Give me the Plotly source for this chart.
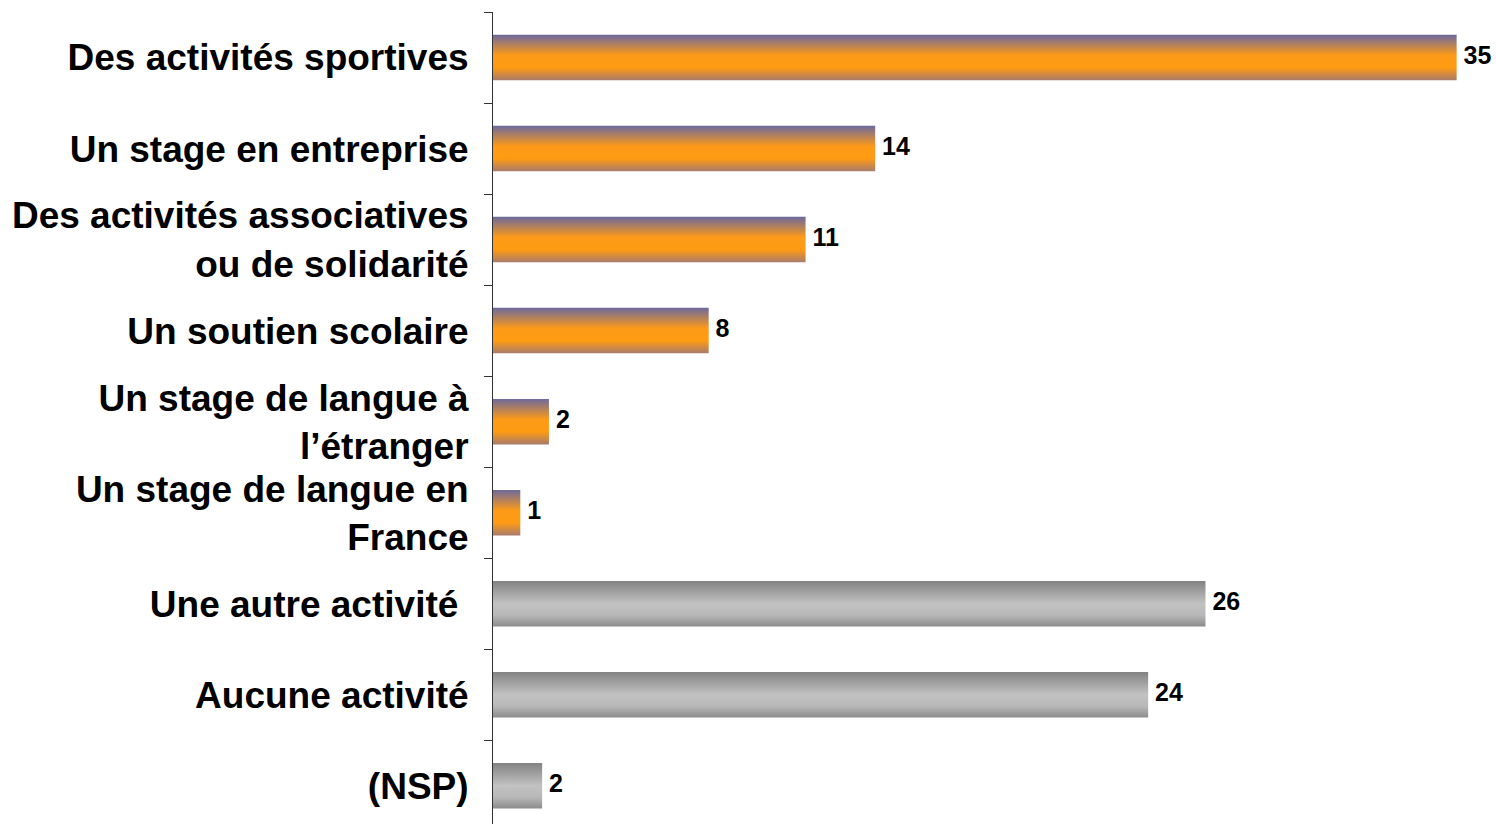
import plotly.graph_objects as go

categories = [
    "Des activités sportives",
    "Un stage en entreprise",
    "Des activités associatives<br>ou de solidarité",
    "Un soutien scolaire",
    "Un stage de langue à<br>l’étranger",
    "Un stage de langue en<br>France",
    "Une autre activité ",
    "Aucune activité",
    "(NSP)",
]
values = [35.3, 14.0, 11.45, 7.9, 2.05, 1.0, 26.1, 24.0, 1.8]
groups = ["activity"] * 6 + ["other"] * 3

ORANGE_SCALE = [[0, "#6c699d"], [0.45, "#fd9a18"], [0.72, "#ff9b12"], [1, "#a87b6c"]]
GRAY_SCALE = [[0, "#828282"], [0.5, "#c2c2c2"], [0.75, "#b8b8b8"], [1, "#8c8c8c"]]
HALF = 0.25
FONT = "Liberation Sans, Arial, sans-serif"

fig = go.Figure()
for i, (v, g) in enumerate(zip(values, groups)):
    scale = ORANGE_SCALE if g == "activity" else GRAY_SCALE
    fig.add_trace(go.Scatter(
        x=[0, v, v, 0, 0],
        y=[i - HALF, i - HALF, i + HALF, i + HALF, i - HALF],
        mode="lines",
        line=dict(width=0),
        fill="toself",
        fillgradient=dict(type="vertical", colorscale=scale,
                          start=i - HALF, stop=i + HALF),
        hoverinfo="skip",
        showlegend=False,
    ))

fig.add_trace(go.Scatter(
    x=values,
    y=list(range(len(values))),
    mode="text",
    texttemplate=" %{x:.0f}",
    textposition="middle right",
    textfont=dict(family=FONT, size=25, color="black", weight="bold"),
    cliponaxis=False,
    showlegend=False,
    hoverinfo="skip",
))

fig.update_layout(
    width=1496, height=824,
    margin=dict(l=493, r=38, t=12, b=0),
    paper_bgcolor="white", plot_bgcolor="white",
    xaxis=dict(range=[0, 35.35], visible=False),
    yaxis=dict(
        range=[len(values) - 0.58, -0.5],
        tickmode="array",
        tickvals=list(range(len(values))),
        ticktext=categories,
        ticks="",
        ticklabelstandoff=16,
        tickfont=dict(family=FONT, size=37, color="black", weight="bold"),
        showline=True, linecolor="#333333", linewidth=1,
        showgrid=False, zeroline=False,
        minor=dict(tickvals=[k - 0.5 for k in range(len(values))],
                   ticks="outside", ticklen=8, tickcolor="#333333",
                   tickwidth=1, showgrid=False),
    ),
)

fig.write_html("out.html", config={"displayModeBar": False},
               post_script="document.body.style.margin='0';document.body.style.overflow='hidden';")
